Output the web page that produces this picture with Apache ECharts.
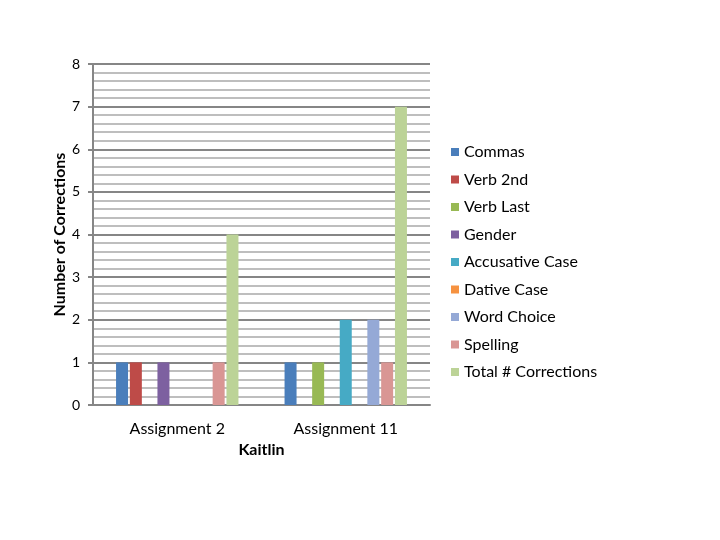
<!DOCTYPE html>
<html lang="en">
<head>
    <meta charset="UTF-8">
    <title>Kaitlin - Number of Corrections</title>
    <script type="text/javascript" src="https://cdn.jsdelivr.net/npm/echarts@6/dist/echarts.min.js"></script>
    <style>
        html, body { margin: 0; padding: 0; background: #fff; }
        #chart { width: 720px; height: 540px; }
    </style>
</head>
<body>
<div id="chart"></div>
<script type="text/javascript">
    // categories on the x axis
    var assignments = ['Assignment 2', 'Assignment 11'];
    // one series per kind of correction
    var seriesNames = ['Commas', 'Verb 2nd', 'Verb Last', 'Gender', 'Accusative Case',
        'Dative Case', 'Word Choice', 'Spelling', 'Total # Corrections'];
    var commas = [1, 1];
    var verb2nd = [1, 0];
    var verbLast = [0, 1];
    var gender = [1, 0];
    var accusative = [0, 2];
    var dative = [0, 0];
    var wordChoice = [0, 2];
    var spelling = [1, 1];
    var total = [4, 7];
    var yTicks = [0, 1, 2, 3, 4, 5, 6, 7, 8];

    var seriesData = [commas, verb2nd, verbLast, gender, accusative, dative, wordChoice, spelling, total];
    var colors = ['#4A7EBB', '#BE4B48', '#98B954', '#7D60A0', '#46AAC5',
        '#F69240', '#95A9D6', '#D99694', '#BCD397'];

    var font = 'Lato, "Open Sans", sans-serif';
    var chart = echarts.init(document.getElementById('chart'));

    var series = [];
    for (var i = 0; i < seriesNames.length; i++) {
        series.push({
            name: seriesNames[i],
            type: 'bar',
            data: seriesData[i],
            barWidth: 12,
            barGap: '15%',
            itemStyle: { color: colors[i] }
        });
    }

    var option = {
        animation: false,
        color: colors,
        grid: { left: 93, right: 290, top: 64, bottom: 135, containLabel: false },
        legend: {
            orient: 'vertical',
            left: 446,
            top: 138,
            itemWidth: 8,
            itemHeight: 8,
            itemGap: 9.5,
            icon: 'rect',
            data: seriesNames,
            textStyle: { fontFamily: font, fontSize: 16, color: '#000', lineHeight: 18 }
        },
        xAxis: {
            type: 'category',
            data: assignments,
            name: 'Kaitlin',
            nameLocation: 'middle',
            nameGap: 37,
            nameTextStyle: { fontFamily: font, fontSize: 16, fontWeight: 'bold', color: '#000' },
            axisLine: { lineStyle: { color: '#868686', width: 2 } },
            axisTick: { show: false },
            axisLabel: { fontFamily: font, fontSize: 16, color: '#000', margin: 16 }
        },
        yAxis: {
            type: 'value',
            min: yTicks[0],
            max: yTicks[yTicks.length - 1],
            interval: 1,
            name: 'Number of Corrections',
            nameLocation: 'middle',
            nameGap: 24,
            nameTextStyle: { fontFamily: font, fontSize: 16, fontWeight: 'bold', color: '#000' },
            axisLine: { show: true, lineStyle: { color: '#868686', width: 2 } },
            axisTick: { show: true, length: 5, lineStyle: { color: '#868686', width: 2 } },
            axisLabel: { fontFamily: font, fontSize: 14, color: '#000', margin: 13 },
            splitLine: { show: true, lineStyle: { color: '#868686', width: 2 } },
            minorTick: { show: false, splitNumber: 5 },
            minorSplitLine: { show: true, lineStyle: { color: '#BEBEBE', width: 2 } }
        },
        series: series
    };
    chart.setOption(option);
</script>
</body>
</html>
